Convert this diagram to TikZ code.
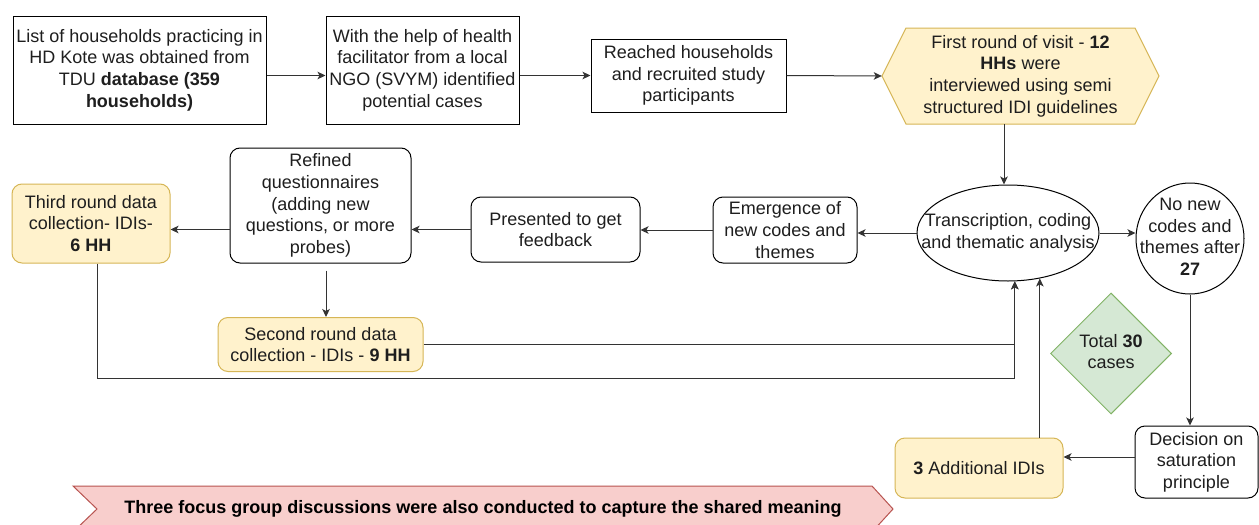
\documentclass[tikz,border=0pt]{standalone}
\usepackage{fontspec}
\setmainfont{Liberation Sans}
\usetikzlibrary{shapes.geometric,arrows.meta,calc}

\definecolor{ink}{HTML}{1E1E1E}
\definecolor{linec}{HTML}{333333}
\definecolor{yfill}{HTML}{FFF2CC}
\definecolor{ydraw}{HTML}{D6B656}
\definecolor{gfill}{HTML}{D5E8D4}
\definecolor{gdraw}{HTML}{82B366}
\definecolor{rfill}{HTML}{F8CECC}
\definecolor{rdraw}{HTML}{B85450}

\newcommand{\fsz}{\fontsize{18}{21.6}\selectfont}
% text of zero size, so that round shapes keep their given size
\newcommand{\zbox}[1]{\makebox[0pt]{\raisebox{-0.25em}[0pt][0pt]{\begin{tabular}[c]{@{}c@{}}#1\end{tabular}}}}

\tikzset{
  every node/.style={font=\fsz, text=ink},
  plain/.style={draw=black, line width=1pt, fill=white, inner sep=2pt, align=center},
  rbox/.style={plain, rounded corners=10pt},
  ybox/.style={draw=ydraw, fill=yfill, line width=1pt, rounded corners=10pt, inner sep=2pt, align=center},
  arr/.style={draw=linec, line width=1pt, -{Stealth[length=8pt,width=7.5pt,inset=2pt]}},
}

\begin{document}
\begin{tikzpicture}[x=1pt,y=-1pt]
\path[use as bounding box, clip] (0,0) rectangle (1259,525);
\fill[white] (0,0) rectangle (1259,525);

% top row
\node[plain, minimum width=253pt, minimum height=108pt] (list) at (139.5,70)
  {List of households practicing in\\HD Kote was obtained from\\TDU \textbf{database (359}\\\textbf{households)}};
\node[plain, minimum width=193pt, minimum height=108pt] (ngo) at (422.5,70)
  {With the help of health\\facilitator from a local\\NGO (SVYM) identified\\potential cases};
\node[plain, minimum width=195pt, minimum height=73pt] (reach) at (688.5,75.5)
  {Reached households\\and recruited study\\participants};

% hexagon of the first round
\filldraw[fill=yfill, draw=ydraw, line width=1pt]
  (882,76) -- (906,28) -- (1135,28) -- (1159,76) -- (1135,124) -- (906,124) -- cycle;
\node[minimum width=277pt, minimum height=96pt, inner sep=0pt, align=center] (hex) at (1020.5,76)
  {First round of visit - \textbf{12}\\\textbf{HHs} were\\interviewed using semi\\structured IDI guidelines};

% analysis and feedback loop
\node[draw=black, line width=1pt, fill=white, ellipse, minimum width=182pt, minimum height=96pt, inner sep=0pt] (ell) at (1008,233)
  {\zbox{Transcription, coding\\and thematic analysis}};
\node[draw=black, line width=1pt, fill=white, ellipse, minimum width=108pt, minimum height=111pt, inner sep=0pt] (circ) at (1190,238.5)
  {\zbox{No new\\codes and\\themes after\\\textbf{27}}};
\node[rbox, minimum width=144pt, minimum height=66pt] (emg) at (785,230)
  {Emergence of\\new codes and\\themes};
\node[rbox, minimum width=169pt, minimum height=65pt] (pres) at (555.5,229.5)
  {Presented to get\\feedback};
\node[rbox, minimum width=181pt, minimum height=115pt] (ref) at (320.5,205.5)
  {Refined\\questionnaires\\(adding new\\questions, or more\\probes)};
\node[ybox, minimum width=158pt, minimum height=79pt] (third) at (91,223.5)
  {Third round data\\collection- IDIs-\\\textbf{6 HH}};
\node[ybox, minimum width=205pt, minimum height=54pt] (second) at (320.5,344.5)
  {Second round data\\collection - IDIs - \textbf{9 HH}};

\node[diamond, fill=gfill, draw=gdraw, line width=1pt, minimum width=121pt, minimum height=121pt, inner sep=0pt] (diam) at (1111,353.5)
  {\zbox{Total \textbf{30}\\cases}};
\node[rbox, minimum width=123pt, minimum height=72pt] (dec) at (1196.5,462)
  {Decision on\\saturation\\principle};
\node[ybox, minimum width=168pt, minimum height=60pt] (add) at (979,468)
  {\textbf{3} Additional IDIs};

% banner of the focus groups
\filldraw[fill=rfill, draw=rdraw, line width=1pt]
  (73,486) -- (872,486) -- (893,509) -- (872,532) -- (73,532) -- (97,509) -- cycle;
\node[font=\fontsize{18}{21.6}\selectfont\bfseries, text=black] (fgd) at (483,509)
  {Three focus group discussions were also conducted to capture the shared meaning};

% connectors
\coordinate (lowrun) at (0,378);
\draw[arr] (list.east |- reach.west) -- (ngo.west |- reach.west);
\draw[arr] (ngo.east |- reach.west) -- (reach.west);
\draw[arr] (reach.east) -- (hex.west);
\draw[arr] ([xshift=-4pt]ell.north |- hex.south) -- ([xshift=-4pt]ell.north);
\draw[arr] (ell.west) -- (ell.west -| emg.east);
\draw[arr] (emg.west) -- (emg.west -| pres.east);
\draw[arr] (pres.west) -- (pres.west -| ref.east);
\draw[arr] (ref.west |- pres.west) -- (third.east |- pres.west);
\draw[arr] ([xshift=5.5pt,yshift=-7pt]ref.south) -- ([xshift=5.5pt]ref.south |- second.north);
\draw[arr] (second.east) -| (ell.-82);
\draw[arr] ([xshift=6pt]third.south) |- (ell.-82 |- lowrun) -- (ell.-82);
\draw[arr] (ell.east) -- (ell.east -| circ.west);
\draw[arr] (circ.south) -- (circ.south |- dec.north);
\draw[arr] ([yshift=5pt]dec.west) -- ([yshift=5pt]dec.west -| add.east);
\draw[arr] (add.north -| ell.-55) -- (ell.-55);
\end{tikzpicture}
\end{document}
